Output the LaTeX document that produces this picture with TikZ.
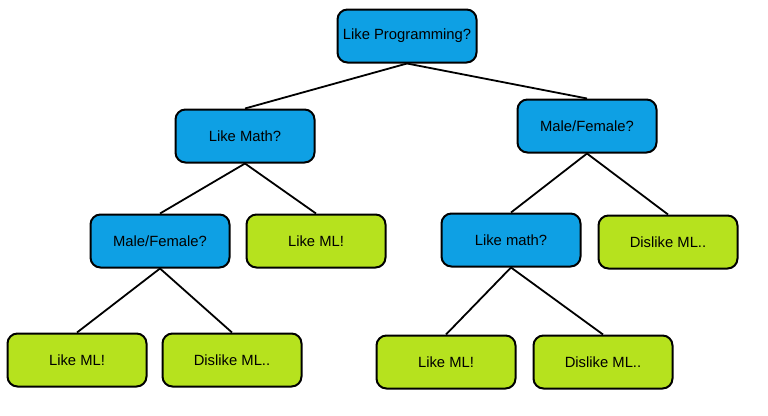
\documentclass[tikz,border=0pt]{standalone}
\usepackage{fontspec}
\setmainfont{Liberation Sans}
\usepackage{tikz}

\definecolor{askblue}{RGB}{14,160,228}
\definecolor{leafgreen}{RGB}{182,226,30}

\begin{document}
\begin{tikzpicture}[x=1pt, y=-1pt, semithick,
    box/.style={draw, rounded corners=10pt, line width=2pt, minimum width=139pt, minimum height=53pt, font=\fontsize{14.8}{17}\selectfont},
    ask/.style={box, fill=askblue},
    leaf/.style={box, fill=leafgreen}]
    \useasboundingbox (0,0) rectangle (768,415);
    \node[ask] (root) at (407,36) {Like Programming?};
    \node[ask] (math) at (245,136) {Like Math?};
    \node[ask] (sexr) at (587,126) {Male/Female?};
    \node[ask] (sexl) at (160,241) {Male/Female?};
    \node[leaf] (likea) at (316,241) {Like ML!};
    \node[ask] (mathr) at (511,240) {Like math?};
    \node[leaf] (dislikea) at (668,242) {Dislike ML..};
    \node[leaf] (likeb) at (77,360) {Like ML!};
    \node[leaf] (dislikeb) at (232,360) {Dislike ML..};
    \node[leaf] (likec) at (446,362) {Like ML!};
    \node[leaf] (dislikec) at (603,362) {Dislike ML..};
    \begin{scope}[line width=1.8pt]
    \draw (root.south) -- (math.north);
    \draw (root.south) -- (sexr.north);
    \draw (math.south) -- (sexl.north);
    \draw (math.south) -- (likea.north);
    \draw (sexl.south) -- (likeb.north);
    \draw (sexl.south) -- (dislikeb.north);
    \draw (sexr.south) -- (mathr.north);
    \draw (sexr.south) -- (dislikea.north);
    \draw (mathr.south) -- (likec.north);
    \draw (mathr.south) -- (dislikec.north);
    \end{scope}
\end{tikzpicture}
\end{document}
